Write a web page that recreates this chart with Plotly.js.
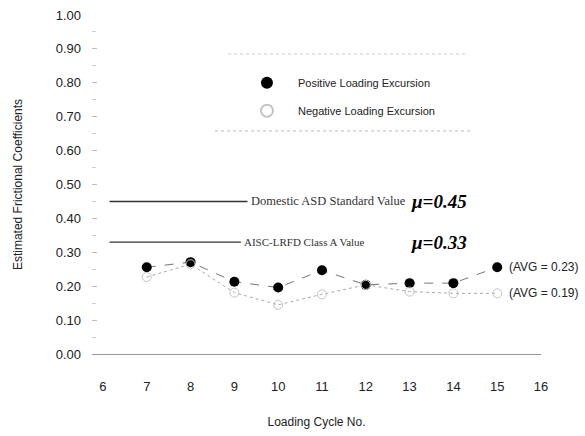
<!DOCTYPE html>
<html><head><meta charset="utf-8">
<script src="https://cdn.plot.ly/plotly-3.0.1.min.js"></script>
<style>html,body{margin:0;padding:0;background:#fff}#chart{width:585px;height:436px}</style>
</head><body><div id="chart"></div>
<script>
const cycles = [7, 8, 9, 10, 11, 12, 13, 14, 15];
const positive = [0.256, 0.271, 0.213, 0.196, 0.247, 0.204, 0.209, 0.209, 0.256];
const negative = [0.227, 0.265, 0.181, 0.145, 0.176, 0.204, 0.184, 0.179, 0.179];
const seriesNames = ['Positive Loading Excursion', 'Negative Loading Excursion'];
const avgLabels = ['(AVG = 0.23)', '(AVG = 0.19)'];
const refValues = [0.45, 0.33];
const refLabels = ['Domestic ASD Standard Value', 'AISC-LRFD Class A Value'];
const refNotes = ['μ=0.45', 'μ=0.33'];
const xTicks = [6, 7, 8, 9, 10, 11, 12, 13, 14, 15, 16];
const yTicks = [0, 0.1, 0.2, 0.3, 0.4, 0.5, 0.6, 0.7, 0.8, 0.9, 1.0];
const xTitle = 'Loading Cycle No.';
const yTitle = 'Estimated Frictional Coefficients';

const series = [positive, negative];
const lineStyles = [
  {color: '#777', width: 1, dash: 'dash'},
  {color: '#aaa', width: 1, dash: 'dot'}
];
const markerStyles = [
  {symbol: 'circle', size: 10, color: '#000'},
  {symbol: 'circle-open', size: 9, color: '#c4c4c4', line: {width: 1, color: '#c4c4c4'}}
];

const traces = [];
series.forEach((vals, i) => {
  traces.push({x: cycles, y: vals, type: 'scatter', mode: 'lines', line: lineStyles[i],
    showlegend: false, hoverinfo: 'skip', cliponaxis: false});
});
series.forEach((vals, i) => {
  traces.push({x: cycles, y: vals, type: 'scatter', mode: 'markers', marker: markerStyles[i],
    name: seriesNames[i], legendgroup: 'g' + i, showlegend: true, cliponaxis: false});
});

const refEnds = [9.3, 9.15];
const refSizes = [12.5, 11];
const shapes = refValues.map((v, i) => ({
  type: 'line', xref: 'x', yref: 'y', x0: 6.15, x1: refEnds[i], y0: v, y1: v,
  line: {color: '#333', width: 1.4}
}));
shapes.push({type: 'line', xref: 'paper', yref: 'paper', x0: 0.303, x1: 0.831, y0: 0.885, y1: 0.885,
  line: {color: '#ccc', width: 1, dash: 'dot'}});
shapes.push({type: 'line', xref: 'paper', yref: 'paper', x0: 0.274, x1: 0.842, y0: 0.658, y1: 0.658,
  line: {color: '#bbb', width: 1, dash: 'dot'}});

const annotations = [];
refValues.forEach((v, i) => {
  annotations.push({x: refEnds[i], y: v, xref: 'x', yref: 'y', text: refLabels[i], showarrow: false,
    xanchor: 'left', xshift: 1, font: {family: 'Liberation Serif, Times New Roman, serif', size: refSizes[i], color: '#333'}});
  annotations.push({x: 12.98, y: v, xref: 'x', yref: 'y', text: '<b><i>' + refNotes[i] + '</i></b>', showarrow: false,
    xanchor: 'left', font: {family: 'Liberation Serif, Times New Roman, serif', size: 19, color: '#000'}});
});
series.forEach((vals, i) => {
  annotations.push({x: cycles[cycles.length - 1], y: vals[vals.length - 1], xref: 'x', yref: 'y',
    text: avgLabels[i], showarrow: false, xanchor: 'left', xshift: 10,
    font: {family: 'Liberation Sans, Arial, sans-serif', size: 12, color: '#222'}});
});

const layout = {
  width: 585, height: 436,
  margin: {l: 92, r: 44, t: 15, b: 82},
  paper_bgcolor: '#fff', plot_bgcolor: '#fff',
  font: {family: 'Liberation Sans, Arial, sans-serif', color: '#222'},
  showlegend: true,
  legend: {x: 0.3206, y: 0.843, xanchor: 'left', yanchor: 'top', bgcolor: 'rgba(0,0,0,0)',
    font: {size: 11, color: '#222'}, itemsizing: 'constant', itemwidth: 52,
    traceorder: 'grouped', tracegroupgap: 9},
  xaxis: {range: [5.75, 16], tickvals: xTicks, ticktext: xTicks.map(String), showgrid: false, zeroline: false,
    showline: true, linecolor: '#999', linewidth: 1, ticks: '', ticklabelstandoff: 20,
    tickfont: {size: 13, color: '#222'},
    title: {text: xTitle, font: {size: 12, color: '#222'}, standoff: 25}},
  yaxis: {range: [0, 1.0], tickvals: yTicks, ticktext: yTicks.map(v => v.toFixed(2)), showgrid: false,
    zeroline: false, showline: false, ticks: 'inside', ticklen: 5, tickcolor: '#bbb',
    minor: {dtick: 0.05, ticks: 'inside', ticklen: 4, tickcolor: '#ccc'},
    ticklabelstandoff: 10, tickfont: {size: 13, color: '#222'},
    title: {text: yTitle, font: {size: 12, color: '#222'}, standoff: 30}},
  shapes: shapes,
  annotations: annotations
};

Plotly.newPlot('chart', traces, layout, {displayModeBar: false, staticPlot: true});
</script></body></html>
